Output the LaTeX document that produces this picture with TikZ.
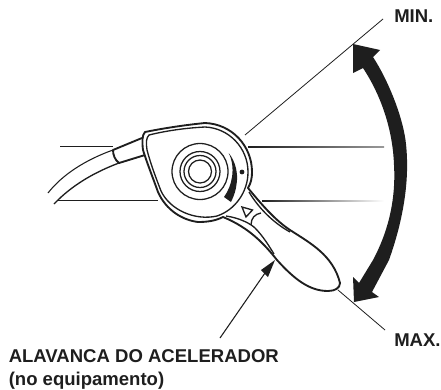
\documentclass[tikz,border=0pt]{standalone}
\usepackage{fontspec}
\setmainfont{Liberation Sans}
\usetikzlibrary{positioning}
\definecolor{inkblack}{HTML}{1E1E1E}
\tikzset{
thin line/.style={line width=0.6pt, inkblack}, % the guide lines
body line/.style={line width=1.4pt, line join=round, inkblack}, % the outline of the lever
inner line/.style={line width=1pt, inkblack},
ring/.style={line width=0.95pt, inkblack},
label text/.style={font=\bfseries\fontsize{13.9}{17.25}\selectfont, align=left, inner sep=0pt, text=inkblack},
}
\def\bodyouter{(145,132) .. controls (165,128) and (185,125) .. (205,123) .. controls (232,124) and (252,146) .. (252,172) .. controls (252,178) and (251,183) .. (248,188) .. controls (262,205) and (275,220) .. (290,230) .. controls (310,243) and (333,255) .. (340,283) .. controls (340,288) and (335,291) .. (328,291) .. controls (310,291) and (295,280) .. (277,260) .. controls (265,245) and (250,228) .. (223,217) .. controls (215,221) and (207,222) .. (198,222) .. controls (182,220) and (166,210) .. (158,192) .. controls (153,178) and (147,163) .. (143,150) .. controls (142,142) and (142,135) .. (145,132) -- cycle}
\def\bodyinner{(149,135) .. controls (165,131) and (185,128) .. (205,127) .. controls (229,128) and (248,148) .. (248,172) .. controls (248,192) and (235,210) .. (217,216) .. controls (195,221) and (170,210) .. (161,191) .. controls (156,178) and (151,165) .. (147,150) .. controls (146,143) and (146,138) .. (149,135) -- cycle}

\begin{document}
\begin{tikzpicture}[x=0.75pt, y=-0.75pt]
    \useasboundingbox (0,0) rectangle (441,389);

    %guide lines
    \draw[thin line] (60,146) -- (113,146);
    \draw[thin line] (58,200) -- (158,200);
    \draw[thin line] (245,135) -- (383,19);
    \shade[left color=inkblack, right color=inkblack!45] (248,146.6) rectangle (384,147.4);
    \shade[left color=inkblack, right color=white] (262,200.6) rectangle (384,201.4);
    \draw[thin line] (338,290) -- (385,330);

    %cable and sleeve
    \draw[line width=0.8pt, inkblack] (113,150) .. controls (85,160) and (62,175) .. (48,193);
    \draw[line width=1pt, inkblack] (119,163) .. controls (95,172) and (72,185) .. (54,204);
    \draw[body line] (142,138) -- (113,150) .. controls (113,155) and (115,160) .. (119,163) -- (145,155);

    %body and lever
    \draw[body line] \bodyouter;
    \draw[inner line] \bodyinner;
    \draw[inner line] (249,192) .. controls (258,207) and (272,222) .. (290,232);
    \draw[inner line] (226,216) .. controls (240,218) and (251,224) .. (255,228) .. controls (263,236) and (269,246) .. (274,254);
    \draw[inner line] (251,225) .. controls (251,218) and (255,214) .. (261,213);
    \draw[inner line] (242,207) -- (252.5,210) -- (246,217) -- cycle;

    %dial
    \draw[ring] (200,171.5) circle (28);
    \draw[ring] (200,171.5) circle (20);
    \draw[ring] (200,171.5) circle (16);
    \draw[ring] (200,171.5) circle (11.5);
    \fill[inkblack] (242,172) circle (2.4);
    \fill[inkblack] (228.7,153) .. controls (236,162) and (238,174) .. (236.7,183) .. controls (236,190) and (234,196) .. (231,202) -- (224,197) .. controls (232,186) and (236,168) .. (228.7,153) -- cycle;

    %big arrow between the two limits
    \fill[inkblack] (353,44) -- (380,50) -- (373,57) .. controls (388,80) and (402,115) .. (405.5,140) .. controls (410,175) and (405,215) .. (389,260) -- (372,292) -- (379,297) -- (354,302) -- (353,277) -- (359,283) -- (373,260) .. controls (388,232) and (396,200) .. (394,165) .. controls (393,135) and (384,100) .. (363,68) -- (353,73) -- cycle;

    %leader
    \coordinate (leader tail) at (220,338);
    \coordinate (leader tip) at (275,260);
    \draw[line width=0.8pt, inkblack] (leader tail) -- (265,273);
    \fill[inkblack] (leader tip) -- (261,270) -- (268,277) -- cycle;

    %labels
    \node[label text, anchor=base west] (min label) at (394,22) {MIN.};
    \node[label text, anchor=base west] (max label) at (394,346) {MAX.};
    \node[label text, anchor=base west] (lever label) at (8.5,362) {ALAVANCA DO ACELERADOR};
    \node[label text, anchor=base west] (lever note) at (8.5,385) {(no equipamento)};
\end{tikzpicture}
\end{document}
